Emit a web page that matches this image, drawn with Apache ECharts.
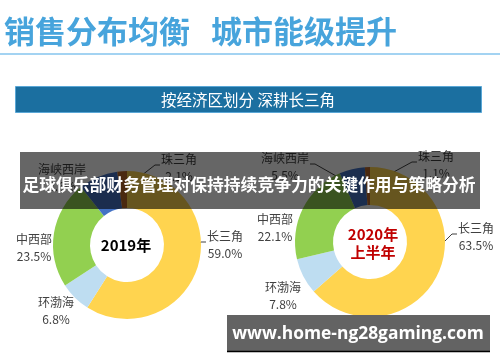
<!DOCTYPE html>
<html>
<head>
<meta charset="utf-8">
<script src="https://cdn.jsdelivr.net/npm/echarts@6/dist/echarts.min.js"></script>
<style>
html,body{margin:0;padding:0;background:#fff;}
#chart{width:500px;height:362px;}
</style>
</head>
<body>
<div id="chart"></div>
<script>
// ---- data ----
const regions = ['长三角', '环渤海', '中西部', '海峡西岸', '珠三角'];
const share2019 = [59.0, 6.8, 23.5, 8.6, 2.1];
const share2020H1 = [63.5, 7.8, 22.1, 5.5, 1.1];
const periodLabels = ['2019年', '2020年\n上半年'];
const titleLeft = '销售分布均衡';
const titleRight = '城市能级提升';
const bannerText = '按经济区划分 深耕长三角';
const overlayText = '足球俱乐部财务管理对保持持续竞争力的关键作用与策略分析';
const watermarkText = 'www.home-ng28gaming.com';

// ---- styles / layout ----
const regionColors = ['#FFD44F', '#BEDDF1', '#92D050', '#4472C4', '#B8682A'];
const hideLine = {'环渤海': true, '中西部': true};
const labelSpot = [
  {'长三角': [225, 245], '环渤海': [56, 311], '中西部': [34, 248], '海峡西岸': [62, 178], '珠三角': [179, 168]},
  {'长三角': [476, 237], '环渤海': [283, 296], '中西部': [275, 228], '海峡西岸': [285, 167], '珠三角': [436, 165]}
];
const CJK = '"Noto Sans CJK SC", "Noto Sans", sans-serif';

function makeData(values, seriesIdx) {
  return regions.map((n, i) => {
    const item = {name: n, value: values[i], itemStyle: {color: regionColors[i]}};
    if (hideLine[n] || (seriesIdx === 0 && n === '海峡西岸')) item.labelLine = {show: false};
    return item;
  });
}

function pieSeries(values, idx, center, radius) {
  return {
    type: 'pie',
    center: center,
    radius: radius,
    startAngle: 90,
    clockwise: true,
    silent: true,
    animation: false,
    avoidLabelOverlap: false,
    data: makeData(values, idx),
    label: {
      show: true,
      position: 'outside',
      formatter: p => p.name + '\n' + p.value.toFixed(1) + '%',
      fontFamily: CJK,
      fontSize: 12,
      lineHeight: 17,
      color: '#404040',
      align: 'center',
      overflow: 'none'
    },
    labelLine: {show: true, length: 8, length2: 6, lineStyle: {color: '#404040', width: 1}},
    labelLayout: function (params) {
      const spot = labelSpot[idx][regions[params.dataIndex]];
      const res = {x: spot[0], y: spot[1], align: 'center', verticalAlign: 'middle'};
      const pts = params.labelLinePoints;
      if (pts && pts.length) {
        const k = (radius[0] + radius[1]) / 2 / radius[1];
        const a = [center[0] + (pts[0][0] - center[0]) * k, center[1] + (pts[0][1] - center[1]) * k];
        const w = params.labelRect.width;
        const leftSide = spot[0] < a[0];
        const endX = leftSide ? spot[0] + w / 2 + 1 : spot[0] - w / 2 - 1;
        const elbowX = leftSide ? endX + 5 : endX - 5;
        const ly = spot[1] - 3;
        res.labelLinePoints = [a, [elbowX, ly], [endX, ly]];
      }
      return res;
    }
  };
}

const chart = echarts.init(document.getElementById('chart'), null, {renderer: 'canvas'});
chart.setOption({
  backgroundColor: '#ffffff',
  animation: false,
  series: [
    pieSeries(share2019, 0, [127, 245], [37, 74]),
    pieSeries(share2020H1, 1, [370, 242], [37, 75])
  ],
  graphic: [
    {type: 'text', x: 4, y: 31, z: 5, style: {text: titleLeft, fill: '#47A4DC', font: 'bold 31px ' + CJK, verticalAlign: 'middle'}},
    {type: 'text', x: 211, y: 31, z: 5, style: {text: titleRight, fill: '#47A4DC', font: 'bold 31px ' + CJK, verticalAlign: 'middle'}},
    {type: 'line', z: 5, shape: {x1: 0, y1: 54, x2: 500, y2: 54}, style: {stroke: '#85C5EE', lineWidth: 1.5}},
    {type: 'rect', z: 5, shape: {x: 15.5, y: 86.5, width: 466, height: 26}, style: {fill: '#1B6FA0', stroke: '#5AA7D6', lineWidth: 1}},
    {type: 'text', x: 248, y: 100, z: 6, style: {text: bannerText, fill: '#ffffff', font: '15.5px ' + CJK, align: 'center', verticalAlign: 'middle'}},
    {type: 'text', x: 126, y: 245, z: 6, style: {text: periodLabels[0], fill: '#000000', font: 'bold 15px ' + CJK, align: 'center', verticalAlign: 'middle'}},
    {type: 'text', x: 373, y: 243, z: 6, style: {text: periodLabels[1], fill: '#C00000', font: 'bold 15px ' + CJK, lineHeight: 18, align: 'center', verticalAlign: 'middle'}},
    {type: 'rect', z: 20, shape: {x: 20, y: 152, width: 460, height: 57}, style: {fill: 'rgba(0,0,0,0.6)'}},
    {type: 'text', x: 249, y: 185, z: 21, style: {text: overlayText, fill: '#ffffff', font: 'bold 16.8px ' + CJK, align: 'center', verticalAlign: 'middle'}},
    {type: 'rect', z: 20, shape: {x: 227, y: 315, width: 263, height: 36}, style: {fill: '#636363'}},
    {type: 'line', z: 21, shape: {x1: 227, y1: 351.5, x2: 490, y2: 351.5}, style: {stroke: '#000000', lineWidth: 1.5}},
    {type: 'text', x: 358, y: 334, z: 21, style: {text: watermarkText, fill: '#ffffff', font: 'bold 17.4px "Open Sans", sans-serif', align: 'center', verticalAlign: 'middle'}}
  ]
});
</script>
</body>
</html>
